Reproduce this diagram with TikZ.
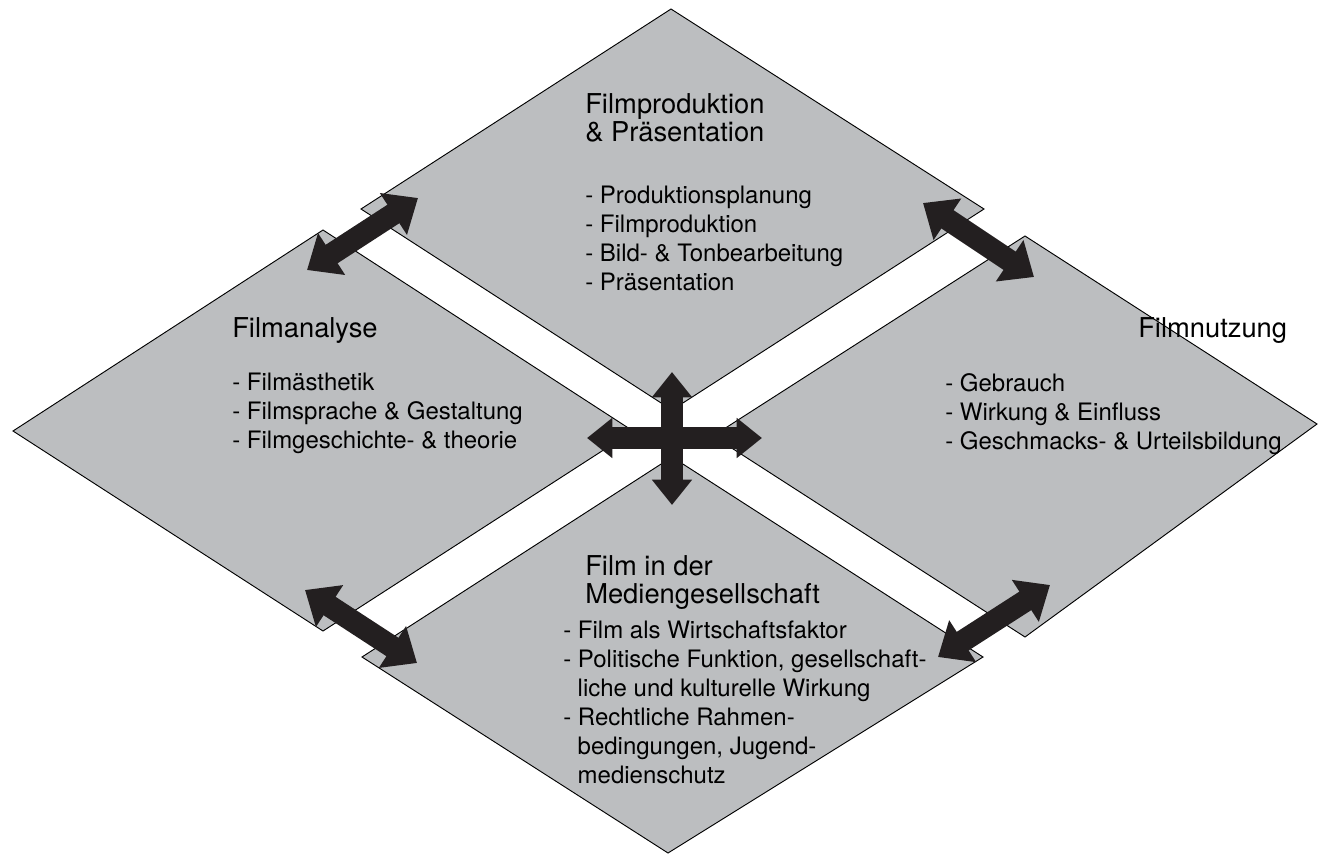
\documentclass[tikz,border=0pt]{standalone}
\usepackage{fontspec}
\setmainfont{TeX Gyre Heros}
\usepackage{tikz}
\usetikzlibrary{arrows.meta,positioning}
\definecolor{fieldgray}{RGB}{188,190,192}
\definecolor{arrowblack}{RGB}{35,31,32}
\begin{document}
\begin{tikzpicture}[x=0.75pt,y=-0.75pt,
    field/.style={draw=black,line width=0.7pt,fill=fieldgray},
    txt/.style={anchor=north west,inner sep=0pt,align=left,font=\fontsize{18}{21.75}\selectfont},
    head/.style={txt,font=\fontsize{20.5}{21.5}\selectfont},
    bigarrow/.style={draw=arrowblack,line width=16.5pt,{Triangle[length=22pt,width=36pt]}-{Triangle[length=22pt,width=36pt]}},
    crossarrow/.style={draw=arrowblack,line width=16.5pt,{Triangle[length=19pt,width=29pt]}-{Triangle[length=19pt,width=29pt]}}]

    \useasboundingbox (0,0) rectangle (1318,854);

    \draw[field] (671,9) -- (984,209) -- (672,410) -- (361,209) -- cycle;
    \draw[field] (13,431) -- (323,230) -- (633,431) -- (323,631) -- cycle;
    \draw[field] (1025,236) -- (1317,424) -- (1025,637) -- (713,436) -- cycle;
    \draw[field] (672,457) -- (983,657) -- (668,853) -- (362,657) -- cycle;

    \coordinate (tl1) at (307,270); \coordinate (tl2) at (418,198);
    \coordinate (tr1) at (923,203); \coordinate (tr2) at (1034,277);
    \coordinate (bl1) at (305,590); \coordinate (bl2) at (417,663);
    \coordinate (br1) at (938,657); \coordinate (br2) at (1050,585);
    \coordinate (cl) at (587,438); \coordinate (cr) at (762,438);
    \coordinate (ct) at (672,372); \coordinate (cb) at (672,505);

    \draw[bigarrow] (tl1) -- (tl2);
    \draw[bigarrow] (tr1) -- (tr2);
    \draw[bigarrow] (bl1) -- (bl2);
    \draw[bigarrow] (br1) -- (br2);
    \draw[crossarrow] (cl) -- (cr);
    \draw[crossarrow] (ct) -- (cb);

    \node[head] (prodhead) at (585,93) {Filmproduktion\\\& Präsentation};
    \node[txt] (prodlist) at (585,186) {- Produktionsplanung\\- Filmproduktion\\- Bild- \& Tonbearbeitung\\- Präsentation};
    \node[head] (anahead) at (232,317) {Filmanalyse};
    \node[txt] (analist) at (232,373) {- Filmästhetik\\- Filmsprache \& Gestaltung\\- Filmgeschichte- \& theorie};
    \node[head] (nutzhead) at (1138,317) {Filmnutzung};
    \node[txt] (nutzlist) at (945,373) {- Gebrauch\\- Wirkung \& Einfluss\\- Geschmacks- \& Urteilsbildung};
    \node[head] (gesehead) at (585,555) {Film in der\\Mediengesellschaft};
    \node[txt] (geselist) at (563,621) {- Film als Wirtschaftsfaktor\\- Politische Funktion, gesellschaft-\\\hspace*{0.6em}liche und kulturelle Wirkung\\- Rechtliche Rahmen-\\\hspace*{0.6em}bedingungen, Jugend-\\\hspace*{0.6em}medienschutz};
\end{tikzpicture}
\end{document}
